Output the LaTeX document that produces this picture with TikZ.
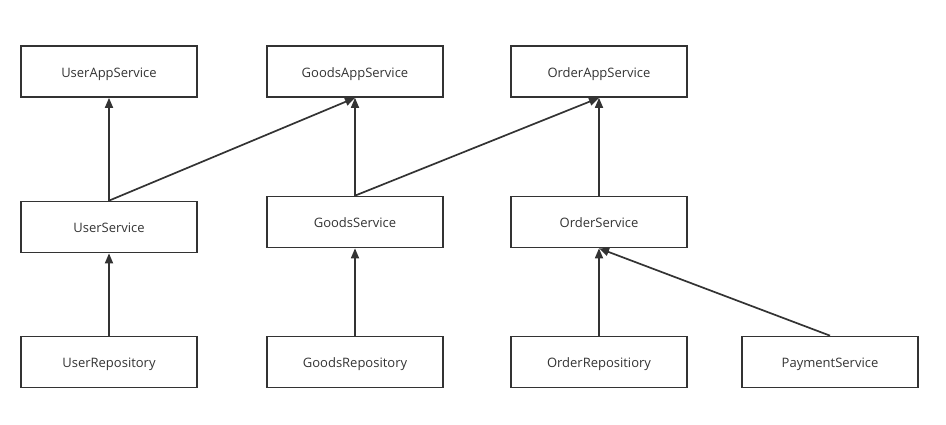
\documentclass[tikz,border=0pt]{standalone}
\usepackage{fontspec}
\setmainfont{Open Sans}
\usetikzlibrary{arrows.meta}
\definecolor{ink}{HTML}{333333}
\tikzset{
  box/.style={draw=ink, line width=1.7pt, minimum width=176pt, minimum height=51pt, inner sep=0pt, text height=9pt, text depth=3pt, font=\fontsize{13}{15}\selectfont, text=ink},
  dep/.style={draw=ink, line width=1.7pt, -{Triangle[length=10pt,width=8pt]}}
}
\newcommand{\lbl}[1]{\raisebox{-2.5pt}{#1}}
\begin{document}
\begin{tikzpicture}[x=1pt,y=-1pt]
\useasboundingbox (0,0) rectangle (946,424);
\node[box] (uapp) at (109,71.5) {\lbl{UserAppService}};
\node[box] (gapp) at (355,71.5) {\lbl{GoodsAppService}};
\node[box] (oapp) at (599,71.5) {\lbl{OrderAppService}};
\node[box] (usvc) at (109,227) {\lbl{UserService}};
\node[box] (gsvc) at (355,222) {\lbl{GoodsService}};
\node[box] (osvc) at (599,222) {\lbl{OrderService}};
\node[box] (urep) at (109,362) {\lbl{UserRepository}};
\node[box] (grep) at (355,362) {\lbl{GoodsRepository}};
\node[box] (orep) at (599,362) {\lbl{OrderRepositiory}};
\node[box] (pay) at (830,362) {\lbl{PaymentService}};
\draw[dep] (usvc.north) -- (uapp.south);
\draw[dep] (usvc.north) -- (gapp.south);
\draw[dep] (gsvc.north) -- (gapp.south);
\draw[dep] (gsvc.north) -- (oapp.south);
\draw[dep] (osvc.north) -- (oapp.south);
\draw[dep] (urep.north) -- (usvc.south);
\draw[dep] (grep.north) -- (gsvc.south);
\draw[dep] (orep.north) -- (osvc.south);
\draw[dep] (pay.north) -- (osvc.south);
\end{tikzpicture}
\end{document}
